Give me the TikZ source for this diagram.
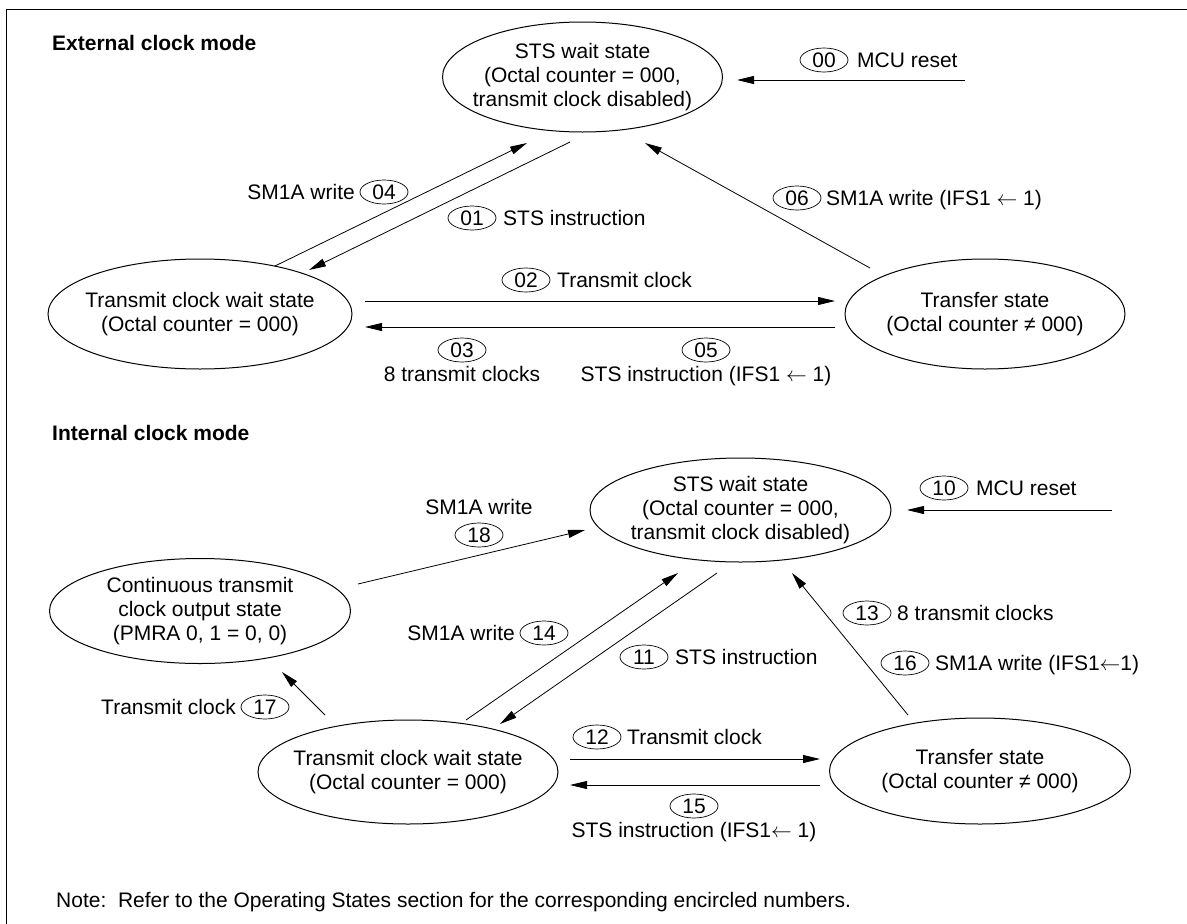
\documentclass[tikz,border=0pt]{standalone}
\usepackage{fontspec}
\setmainfont{Liberation Sans}
\usetikzlibrary{arrows.meta,shapes.geometric}
\begin{document}
\begin{tikzpicture}[x=1pt,y=-1pt,
  every node/.style={font=\fontsize{21}{24}\selectfont},
  state/.style={draw, ellipse, line width=1pt, inner sep=0pt},
  num/.style={draw, ellipse, line width=0.7pt, inner sep=0pt, minimum width=48pt, minimum height=24pt},
  txt/.style={inner sep=0pt},
  ttl/.style={inner sep=0pt, anchor=base west, font=\fontsize{21}{24}\selectfont\bfseries},
  arr/.style={line width=0.8pt, -{Triangle[length=17pt,width=8pt]}}]
\useasboundingbox (0,0) rectangle (1187,924);
\draw[line width=1pt] (6,924) -- (6,9) -- (1187,9);

% ---------------- External clock mode
\node[ttl] (t1) at (52,50) {External clock mode};
\node[state, minimum width=280pt, minimum height=110pt] (sts1) at (582.5,77) {};
\node[txt, align=center] (sts1t) at (sts1.center) {STS wait state\\(Octal counter = 000,\\transmit clock disabled)};
\node[state, minimum width=304pt, minimum height=110pt] (tw1) at (200,314) {};
\node[txt, align=center] (tw1t) at (tw1.center) {Transmit clock wait state\\(Octal counter = 000)};
\node[state, minimum width=280pt, minimum height=110pt] (tr1) at (985,314) {};
\node[txt, align=center] (tr1t) at (tr1.center) {Transfer state\\(Octal counter ≠ 000)};

\coordinate (r0s) at (965,80);  \coordinate (r0e) at (737,80);
\coordinate (a04s) at (275,266); \coordinate (a04e) at (527,143);
\coordinate (a01s) at (570,142); \coordinate (a01e) at (309,270);
\coordinate (a06s) at (870,268); \coordinate (a06e) at (645,143);
\coordinate (a02s) at (365,301); \coordinate (a02e) at (835,301);
\coordinate (a03s) at (835,327); \coordinate (a03e) at (365,327);
\draw[arr] (r0s) -- (r0e);
\draw[arr] (a04s) -- (a04e);
\draw[arr] (a01s) -- (a01e);
\draw[arr] (a06s) -- (a06e);
\draw[arr] (a02s) -- (a02e);
\draw[arr] (a03s) -- (a03e);

\node[num] (n00) at (824,60) {00};
\node[txt, anchor=base west] (l00) at (857,67) {MCU reset};
\node[num] (n04) at (384,192) {04};
\node[txt, anchor=base east] (l04) at (355,199) {SM1A write};
\node[num] (n01) at (472,218) {01};
\node[txt, anchor=base west] (l01) at (503,225) {STS instruction};
\node[num] (n02) at (526,280) {02};
\node[txt, anchor=base west] (l02) at (557,287) {Transmit clock};
\node[num] (n03) at (462,350) {03};
\node[txt, anchor=base] (l03) at (462,381) {8 transmit clocks};
\node[num] (n05) at (706,350) {05};
\node[txt, anchor=base] (l05) at (706,381) {STS instruction (IFS1 \(\leftarrow\) 1)};
\node[num] (n06) at (797,198) {06};
\node[txt, anchor=base west] (l06) at (826,205) {SM1A write (IFS1 \(\leftarrow\) 1)};

% ---------------- Internal clock mode
\node[ttl] (t2) at (52,440) {Internal clock mode};
\node[state, minimum width=301pt, minimum height=104pt] (sts2) at (740.5,510) {};
\node[txt, align=center] (sts2t) at (sts2.center) {STS wait state\\(Octal counter = 000,\\transmit clock disabled)};
\node[state, minimum width=301pt, minimum height=105pt] (cont) at (200,611) {};
\node[txt, align=center] (contt) at (cont.center) {Continuous transmit\\clock output state\\(PMRA 0, 1 = 0, 0)};
\node[state, minimum width=300pt, minimum height=104pt] (tw2) at (408,772) {};
\node[txt, align=center] (tw2t) at (tw2.center) {Transmit clock wait state\\(Octal counter = 000)};
\node[state, minimum width=301pt, minimum height=106pt] (tr2) at (980,771) {};
\node[txt, align=center] (tr2t) at (tr2.center) {Transfer state\\(Octal counter ≠ 000)};

\coordinate (r1s) at (1112,510); \coordinate (r1e) at (907,510);
\coordinate (a18s) at (358,584); \coordinate (a18e) at (585,530);
\coordinate (a14s) at (466,720); \coordinate (a14e) at (678,573);
\coordinate (a11s) at (717,573); \coordinate (a11e) at (500,724);
\coordinate (a13s) at (908,715); \coordinate (a13e) at (792,573);
\coordinate (a17s) at (325,715); \coordinate (a17e) at (282,672);
\coordinate (a12s) at (570,759); \coordinate (a12e) at (820,759);
\coordinate (a15s) at (820,785); \coordinate (a15e) at (570,785);
\draw[arr] (r1s) -- (r1e);
\draw[arr] (a18s) -- (a18e);
\draw[arr] (a14s) -- (a14e);
\draw[arr] (a11s) -- (a11e);
\draw[arr] (a13s) -- (a13e);
\draw[arr] (a17s) -- (a17e);
\draw[arr] (a12s) -- (a12e);
\draw[arr] (a15s) -- (a15e);

\node[num] (n10) at (944,488) {10};
\node[txt, anchor=base west] (l10) at (976,495) {MCU reset};
\node[txt, anchor=base] (l18) at (479,514) {SM1A write};
\node[num] (n18) at (479,535) {18};
\node[num] (n14) at (544,633) {14};
\node[txt, anchor=base east] (l14) at (515,640) {SM1A write};
\node[num] (n11) at (644,657) {11};
\node[txt, anchor=base west] (l11) at (675,664) {STS instruction};
\node[num] (n13) at (867,613) {13};
\node[txt, anchor=base west] (l13) at (897,620) {8 transmit clocks};
\node[num] (n16) at (905,663) {16};
\node[txt, anchor=base west] (l16) at (935,670) {SM1A write (IFS1\(\leftarrow\)1)};
\node[num] (n17) at (265,707) {17};
\node[txt, anchor=base east] (l17) at (236,714) {Transmit clock};
\node[num] (n12) at (597,737) {12};
\node[txt, anchor=base west] (l12) at (627,744) {Transmit clock};
\node[num] (n15) at (694,806) {15};
\node[txt, anchor=base] (l15) at (694,837) {STS instruction (IFS1\(\leftarrow\) 1)};

\node[txt, anchor=base west] (note) at (56,907) {Note:\ \ Refer to the Operating States section for the corresponding encircled numbers.};
\end{tikzpicture}
\end{document}
